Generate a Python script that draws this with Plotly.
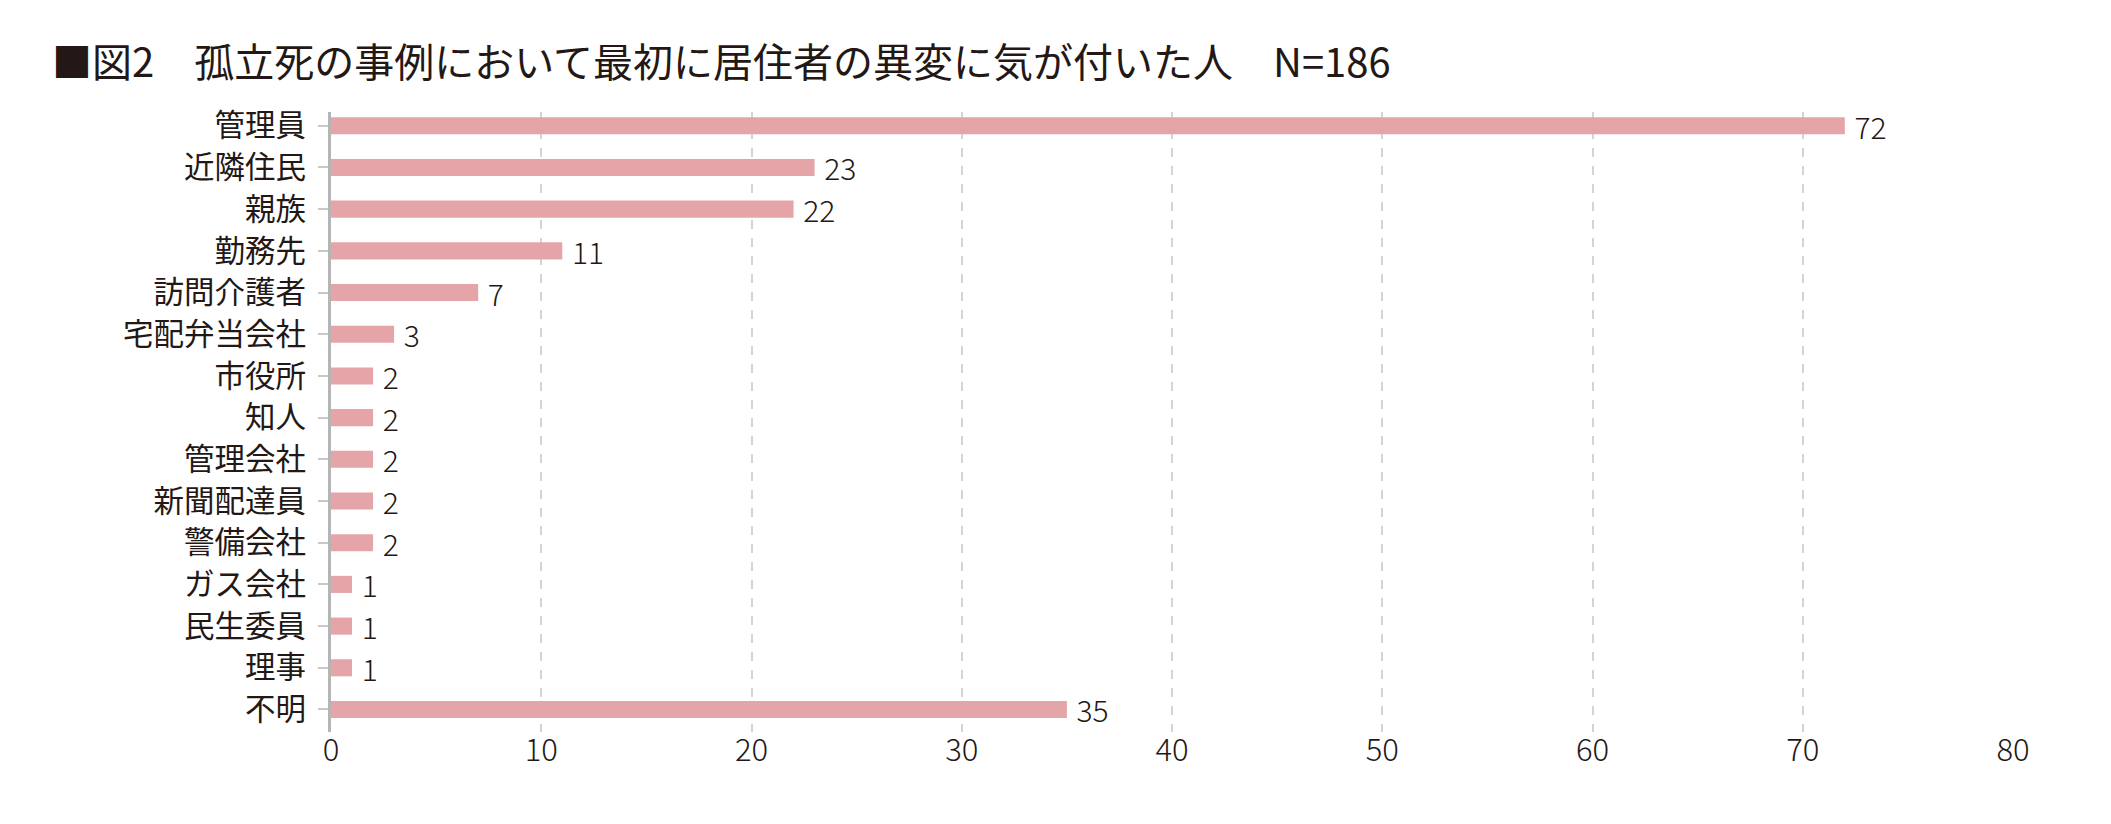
import plotly.graph_objects as go

# Who first noticed something wrong with the resident (N=186)
categories = ["管理員", "近隣住民", "親族", "勤務先", "訪問介護者", "宅配弁当会社",
              "市役所", "知人", "管理会社", "新聞配達員", "警備会社", "ガス会社",
              "民生委員", "理事", "不明"]
values = [72, 23, 22, 11, 7, 3, 2, 2, 2, 2, 2, 1, 1, 1, 35]
x_ticks = [0, 10, 20, 30, 40, 50, 60, 70, 80]

title_text = "■図2　孤立死の事例において最初に居住者の異変に気が付いた人　N=186"

FONT = "Noto Sans CJK JP"
INK = "#231815"

fig = go.Figure()
fig.add_trace(
    go.Bar(
        x=values,
        y=categories,
        orientation="h",
        marker=dict(color="#e5a4a8", line=dict(width=0)),
        text=values,
        texttemplate="\u00a0%{x}",
        textposition="outside",
        constraintext="none",
        textfont=dict(family=FONT, size=30, color=INK, weight=300),
        cliponaxis=False,
        hoverinfo="x+y",
    )
)

fig.update_layout(
    width=2111,
    height=824,
    paper_bgcolor="white",
    plot_bgcolor="white",
    margin=dict(l=323, r=106, t=104, b=100, autoexpand=False),
    bargap=0.59,
    showlegend=False,
    font=dict(family=FONT, color=INK),
    title={
        'text': title_text,
        'xref': 'container',
        'yref': 'container',
        'x': 44 / 2111,
        'xanchor': 'left',
        'y': 1 - 55 / 824,
        'yanchor': 'middle',
        'font': dict(family=FONT, size=40, color=INK),
    },
)

fig.update_xaxes(
    range=[0, 80],
    tickvals=x_ticks,
    showgrid=True,
    gridcolor="#d4d4d4",
    gridwidth=2,
    griddash="dash",
    zeroline=False,
    showline=False,
    ticks="",
    tickfont=dict(family=FONT, size=31, color=INK, weight=300),
    ticklabelstandoff=-3,
)

fig.update_yaxes(
    categoryorder="array",
    categoryarray=categories,
    range=[len(categories) - 0.46, -0.33],
    showgrid=False,
    zeroline=False,
    showline=True,
    linecolor="#b5b5b5",
    linewidth=3,
    ticks="outside",
    ticklen=10,
    tickwidth=2,
    tickcolor="#c8c8c8",
    ticklabelstandoff=6,
    tickfont=dict(family=FONT, size=30.5, color=INK),
)

fig.write_html("out.html")
